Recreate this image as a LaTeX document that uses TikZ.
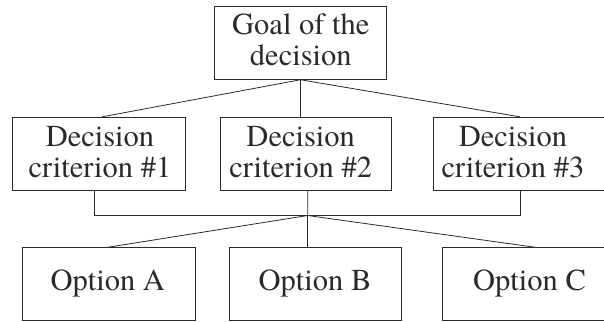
\documentclass[tikz,border=0pt]{standalone}
\usepackage{fontspec}
\setmainfont{texgyretermes}[Extension=.otf,UprightFont=*-regular]
\definecolor{ink}{HTML}{2A2A2A}
\begin{document}
\begin{tikzpicture}[x=1pt,y=-1pt,
  box/.style={draw=ink,line width=0.9pt,rectangle,inner sep=0pt},
  lbl/.style={anchor=base,inner sep=0pt,text=ink,font=\fontsize{30.5}{31}\selectfont},
  link/.style={draw=ink,line width=0.8pt}]
\useasboundingbox (0,0) rectangle (604,321);
% boxes
\node[box,minimum width=172.4pt,minimum height=73.3pt] (goal) at (300.5,42.65) {};
\node[box,minimum width=173pt,minimum height=73.2pt] (c1) at (99.2,153.9) {};
\node[box,minimum width=171.7pt,minimum height=73.2pt] (c2) at (305.85,153.9) {};
\node[box,minimum width=173pt,minimum height=73.2pt] (c3) at (519.5,153.9) {};
\node[box,minimum width=172.3pt,minimum height=72.3pt] (oA) at (108.85,283.85) {};
\node[box,minimum width=172pt,minimum height=72.3pt] (oB) at (315,283.85) {};
\node[box,minimum width=172.3pt,minimum height=72.3pt] (oC) at (528.85,283.85) {};
% texts
\node[lbl] (goalt1) at (300.8,35) {Goal of the};
\node[lbl] (goalt2) at (300.8,65) {decision};
\node[lbl] (c1t1) at (100,146.7) {Decision};
\node[lbl] (c1t2) at (100,177.3) {criterion \#1};
\node[lbl] (c2t1) at (300.7,146.7) {Decision};
\node[lbl] (c2t2) at (300.7,177.3) {criterion \#2};
\node[lbl] (c3t1) at (513,146.7) {Decision};
\node[lbl] (c3t2) at (513,177.3) {criterion \#3};
\node[lbl] (oAt) at (107.8,290.7) {Option A};
\node[lbl] (oBt) at (315,290.7) {Option B};
\node[lbl] (oCt) at (529.5,290.7) {Option C};
% goal to criteria
\draw[link] (goal.south) -- ([xshift=2.8pt]c1.north);
\draw[link] (goal.south) -- (goal.south |- c2.north);
\draw[link] (goal.south) -- ([xshift=0.5pt]c3.north);
% criteria bracket
\coordinate (j) at (307.7,215.5);
\draw[link] ([xshift=-5.2pt]c1.south) |- (j) -| ([xshift=1.2pt]c3.south);
\draw[link] ([xshift=1.85pt]c2.south) -- (j);
% bracket to options
\draw[link] (j) -- ([xshift=-0.85pt]oA.north);
\draw[link] (j) -- ([xshift=-7.3pt]oB.north);
\draw[link] (j) -- ([xshift=6.15pt]oC.north);
\end{tikzpicture}
\end{document}
